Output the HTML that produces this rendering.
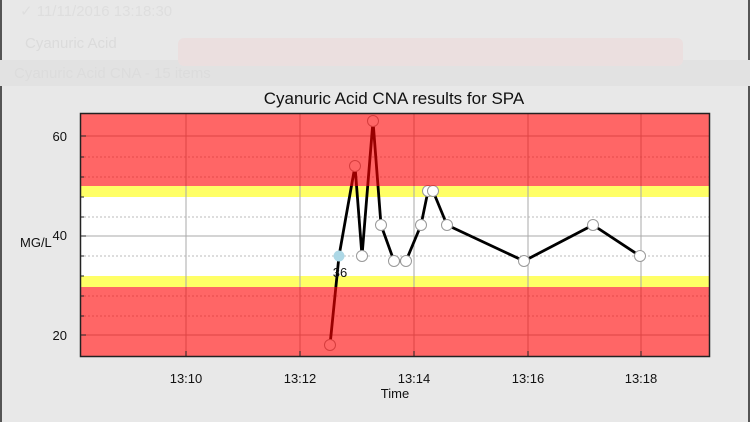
<!DOCTYPE html>
<html><head><meta charset="utf-8"><style>
html,body{margin:0;padding:0;background:#e8e8e8;width:750px;height:422px;overflow:hidden}
svg{display:block}
text{font-family:"Liberation Sans",sans-serif}
</style></head><body>
<svg width="750" height="422" viewBox="0 0 750 422">
<rect width="750" height="422" fill="#e8e8e8"/>
<rect x="0" y="0" width="2" height="422" fill="#555"/>
<rect x="748" y="0" width="2" height="422" fill="#555"/>
<rect x="0" y="60" width="750" height="26" fill="#e2e2e2"/>
<rect x="178" y="38" width="505" height="28" rx="6" fill="#ebdfdf"/>
<text x="20" y="16" font-size="15" fill="#dedede">✓ 11/11/2016 13:18:30</text>
<text x="25" y="48" font-size="15" fill="#dbdbdb">Cyanuric Acid</text>
<text x="14" y="78" font-size="15" fill="#dcdcdc">Cyanuric Acid CNA - 15 items</text>
<text x="394" y="104" font-size="17" text-anchor="middle" fill="#111">Cyanuric Acid CNA results for SPA</text>
<!-- plot -->
<rect x="80" y="113" width="630" height="244" fill="#fff"/>
<rect x="80" y="186" width="630" height="11" fill="#ffff66"/>
<rect x="80" y="276" width="630" height="11" fill="#ffff66"/>
<g stroke="#bbb" stroke-width="1" stroke-dasharray="2,2">
<line x1="80" y1="157" x2="710" y2="157"/><line x1="80" y1="177" x2="710" y2="177"/><line x1="80" y1="217" x2="710" y2="217"/><line x1="80" y1="256" x2="710" y2="256"/><line x1="80" y1="296" x2="710" y2="296"/><line x1="80" y1="316" x2="710" y2="316"/>
</g>
<g stroke="#aaa" stroke-width="1">
<line x1="80" y1="136" x2="710" y2="136"/><line x1="80" y1="236" x2="710" y2="236"/><line x1="80" y1="335" x2="710" y2="335"/>
<line x1="186" y1="113" x2="186" y2="357"/><line x1="300" y1="113" x2="300" y2="357"/><line x1="414" y1="113" x2="414" y2="357"/><line x1="528" y1="113" x2="528" y2="357"/><line x1="641" y1="113" x2="641" y2="357"/>
</g>
<polyline fill="none" stroke="#000" stroke-width="2.8" stroke-linejoin="round" points="330,345 339,256 355,166 362,256 373,121 381,225 394,261 406,261 421,225 428,191 433,191 447,225 524,261 593,225 640,256"/>
<g fill="#fff" stroke="#999" stroke-width="1">
<circle cx="330" cy="345" r="5.5"/><circle cx="355" cy="166" r="5.5"/><circle cx="362" cy="256" r="5.5"/><circle cx="373" cy="121" r="5.5"/><circle cx="381" cy="225" r="5.5"/><circle cx="394" cy="261" r="5.5"/><circle cx="406" cy="261" r="5.5"/><circle cx="421" cy="225" r="5.5"/><circle cx="428" cy="191" r="5.5"/><circle cx="433" cy="191" r="5.5"/><circle cx="447" cy="225" r="5.5"/><circle cx="524" cy="261" r="5.5"/><circle cx="593" cy="225" r="5.5"/><circle cx="640" cy="256" r="5.5"/>
</g>
<rect x="80" y="113" width="630" height="73" fill="#ff0000" fill-opacity="0.6"/>
<rect x="80" y="287" width="630" height="70" fill="#ff0000" fill-opacity="0.6"/>
<circle cx="339" cy="256" r="5.5" fill="#add8e6"/>
<text x="340" y="277" font-size="13" text-anchor="middle" fill="#111">36</text>
<rect x="80.5" y="113.5" width="629" height="243" fill="none" stroke="#222" stroke-width="1.5"/>
<g stroke="#222" stroke-width="1">
<line x1="80" y1="136" x2="86" y2="136"/><line x1="80" y1="157" x2="84" y2="157"/><line x1="80" y1="177" x2="84" y2="177"/><line x1="80" y1="197" x2="84" y2="197"/><line x1="80" y1="217" x2="84" y2="217"/><line x1="80" y1="236" x2="86" y2="236"/><line x1="80" y1="256" x2="84" y2="256"/><line x1="80" y1="276" x2="84" y2="276"/><line x1="80" y1="296" x2="84" y2="296"/><line x1="80" y1="316" x2="84" y2="316"/><line x1="80" y1="335" x2="86" y2="335"/>
<line x1="186" y1="357" x2="186" y2="351"/><line x1="300" y1="357" x2="300" y2="351"/><line x1="414" y1="357" x2="414" y2="351"/><line x1="528" y1="357" x2="528" y2="351"/><line x1="641" y1="357" x2="641" y2="351"/>
</g>
<g font-size="13" fill="#111">
<text x="67" y="141" text-anchor="end">60</text>
<text x="67" y="240" text-anchor="end">40</text>
<text x="67" y="340" text-anchor="end">20</text>
<text x="20" y="247">MG/L</text>
<text x="186" y="383" text-anchor="middle">13:10</text>
<text x="300" y="383" text-anchor="middle">13:12</text>
<text x="414" y="383" text-anchor="middle">13:14</text>
<text x="528" y="383" text-anchor="middle">13:16</text>
<text x="641" y="383" text-anchor="middle">13:18</text>
<text x="395" y="398" text-anchor="middle">Time</text>
</g>
</svg>
</body></html>
